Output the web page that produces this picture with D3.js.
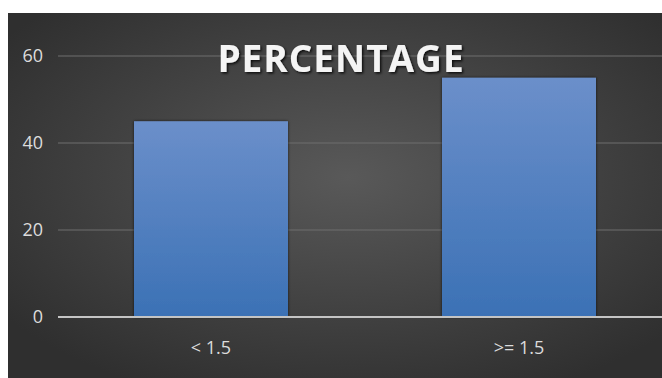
<!DOCTYPE html>
<html>
<head>
<meta charset="utf-8">
<script src="https://cdn.jsdelivr.net/npm/d3@7"></script>
<style>
  html, body { margin: 0; padding: 0; background: #ffffff; }
  svg { display: block; }
</style>
</head>
<body>
<svg id="chart" width="662" height="378"></svg>
<script>
// Chart data
const categories = ["< 1.5", ">= 1.5"];
const values = [45, 55];
const yTicks = [0, 20, 40, 60];
const title = "PERCENTAGE";

const W = 662, H = 378;
const panel = { x: 8, y: 13, w: W - 8, h: H - 13 };
const plot = { left: 57, right: 673, top: 56, bottom: 317 };
const gridLeft = 58, gridRight = W;
const labelFont = "'Open Sans', 'Liberation Sans', sans-serif";

const svg = d3.select("#chart");
const defs = svg.append("defs");

// Dark panel background with a soft radial highlight
const bg = defs.append("radialGradient").attr("id", "bg")
  .attr("cx", "52%").attr("cy", "45%").attr("r", "65%");
bg.append("stop").attr("offset", "0%").attr("stop-color", "#595959");
bg.append("stop").attr("offset", "100%").attr("stop-color", "#2f2f2f");

// Bar fill: lighter blue at the top, deeper at the base
const barGrad = defs.append("linearGradient").attr("id", "barGrad")
  .attr("x1", 0).attr("y1", 0).attr("x2", 0).attr("y2", 1);
barGrad.append("stop").attr("offset", "0%").attr("stop-color", "#6b8fca");
barGrad.append("stop").attr("offset", "100%").attr("stop-color", "#3b71b5");

const shadow = defs.append("filter").attr("id", "barShadow")
  .attr("x", "-10%").attr("y", "-10%").attr("width", "120%").attr("height", "120%");
shadow.append("feDropShadow").attr("dx", 0).attr("dy", 0).attr("stdDeviation", 1.6)
  .attr("flood-color", "#000").attr("flood-opacity", 0.7);

const tshadow = defs.append("filter").attr("id", "titleShadow")
  .attr("x", "-10%").attr("y", "-20%").attr("width", "120%").attr("height", "140%");
tshadow.append("feDropShadow").attr("dx", 1.5).attr("dy", 1.5).attr("stdDeviation", 1)
  .attr("flood-color", "#000").attr("flood-opacity", 0.8);

svg.append("rect")
  .attr("x", panel.x).attr("y", panel.y)
  .attr("width", panel.w).attr("height", panel.h)
  .attr("fill", "url(#bg)");

const x = d3.scaleBand().domain(categories)
  .range([plot.left, plot.right]).paddingInner(0.5).paddingOuter(0.25);
const y = d3.scaleLinear().domain([0, 60]).range([plot.bottom, plot.top]);

// Gridlines
svg.append("g").selectAll("line")
  .data(yTicks.filter(d => d !== 0))
  .join("line")
  .attr("x1", gridLeft).attr("x2", gridRight)
  .attr("y1", d => y(d)).attr("y2", d => y(d))
  .attr("stroke", "#6e6e6e").attr("stroke-width", 1);

// Y-axis tick labels
const yAxis = d3.axisLeft(y).tickValues(yTicks).tickSize(0).tickPadding(0);
const gy = svg.append("g").attr("transform", `translate(43,0)`).call(yAxis);
gy.select(".domain").remove();
gy.selectAll("text")
  .attr("fill", "#dcdcdc")
  .style("font-family", labelFont)
  .style("font-size", "18px");

// Bars
svg.append("g").selectAll("rect")
  .data(values)
  .join("rect")
  .attr("x", (d, i) => x(categories[i]))
  .attr("y", d => y(d))
  .attr("width", x.bandwidth())
  .attr("height", d => y(0) - y(d))
  .attr("fill", "url(#barGrad)")
  .attr("filter", "url(#barShadow)");

// Baseline
svg.append("line")
  .attr("x1", gridLeft).attr("x2", gridRight)
  .attr("y1", y(0)).attr("y2", y(0))
  .attr("stroke", "#c4c4c4").attr("stroke-width", 2);

// Category labels
const xAxis = d3.axisBottom(x).tickSize(0).tickPadding(0);
const gx = svg.append("g").attr("transform", `translate(0,${y(0) + 24})`).call(xAxis);
gx.select(".domain").remove();
gx.selectAll("text")
  .attr("fill", "#dcdcdc")
  .style("font-family", labelFont)
  .style("font-size", "18px");

// Title
svg.append("text")
  .attr("x", 341).attr("y", 72)
  .attr("text-anchor", "middle")
  .attr("fill", "#f4f4f4")
  .attr("filter", "url(#titleShadow)")
  .style("font-family", labelFont)
  .style("font-weight", "bold")
  .style("font-size", "37px")
  .style("letter-spacing", "1px")
  .text(title);
</script>
</body>
</html>
